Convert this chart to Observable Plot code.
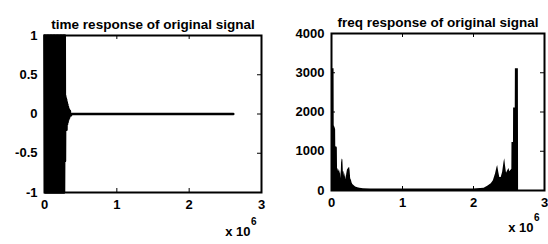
<!DOCTYPE html>
<html><head><meta charset="utf-8">
<script src="https://cdn.jsdelivr.net/npm/d3@7"></script>
<script src="https://cdn.jsdelivr.net/npm/@observablehq/plot@0.6"></script>
<style>
html,body{margin:0;padding:0;background:#fff}
body{width:548px;height:244px;overflow:hidden;position:relative}
#left,#right{position:absolute;top:0}
#left{left:0}
#right{left:274px}
svg{display:block}
</style></head>
<body><div id="left"></div><div id="right"></div>
<script>
// ---- data (x in units of 10^6 samples) ----
const xTicks = [0, 1, 2, 3];
const timeYTicks = [-1, -0.5, 0, 0.5, 1];
const freqYTicks = [0, 1000, 2000, 3000, 4000];

const timeT = [0,0.01,0.02,0.03,0.04,0.05,0.06,0.07,0.08,0.09,0.10,0.11,0.12,0.13,0.14,0.15,0.16,0.17,0.18,0.19,0.20,0.21,0.22,0.23,0.24,0.25,0.26,0.27,0.28,
  0.283,0.287,0.29,0.294,0.297,0.30,0.304,0.308,0.312,0.316,0.32,0.325,0.33,0.335,0.34,0.35,0.36,0.38,2.61];
const timeV = [1,-1,1,-1,1,-1,1,-1,1,-1,1,-1,1,-1,1,-1,1,-1,1,-1,1,-1,1,-1,1,-1,1,-1,1,
  -0.6,0.23,-0.19,0.2,-0.17,0.18,-0.2,0.15,-0.13,0.12,-0.1,0.09,-0.07,0.06,-0.05,0.04,-0.02,0,0];

const freqF = [0,0.036,0.038,0.05,0.058,0.06,0.07,0.082,0.085,0.092,0.1,0.108,0.117,0.126,0.135,0.142,0.15,0.16,0.167,0.175,0.185,0.195,0.205,0.215,0.225,0.24,0.255,0.262,0.27,0.28,0.29,0.30,0.32,0.34,0.37,0.40,0.45,0.55,
  0.8,1.2,1.6,2.0,2.1,2.15,2.2,2.25,2.28,2.31,2.33,2.34,2.355,2.37,2.39,2.41,2.43,2.44,2.45,2.465,2.475,2.49,2.50,2.51,2.525,2.535,2.54,2.542,2.563,2.565,2.588,2.59,2.632,2.635];
const freqM = [3100,3100,1650,1600,1550,1100,1120,1080,560,540,480,540,420,520,300,700,800,780,470,480,340,440,270,420,520,560,590,500,300,260,190,150,120,90,70,55,45,40,
  38,36,38,40,48,60,110,170,250,420,580,640,470,330,330,460,720,810,640,440,480,530,560,480,510,530,540,1220,1220,2100,2100,3100,3100,0];

const timeData = timeT.map((t, i) => ({t, v: timeV[i]}));
const freqData = freqF.map((f, i) => ({f, m: freqM[i]}));

const FONT = "'Liberation Sans', Arial, Helvetica, sans-serif";

function panel({mark, yDomain, yTicks, title, ml, mr, mt, mb}) {
  const W = 274, H = 244;
  const FW = W - ml - mr, FH = H - mt - mb;
  return Plot.plot({
    width: W, height: H,
    marginLeft: ml, marginRight: mr, marginTop: mt, marginBottom: mb,
    x: {domain: [0, 3], label: null},
    y: {domain: yDomain, label: null},
    style: {fontFamily: FONT, fontSize: "13px", fontWeight: "bold", color: "#000", background: "#fff", overflow: "visible"},
    marks: [
      mark,
      Plot.tickX(xTicks, {x: d => d, stroke: "#000", strokeWidth: 1, insetBottom: FH - 4}),
      Plot.tickX(xTicks, {x: d => d, stroke: "#000", strokeWidth: 1, insetTop: FH - 4}),
      Plot.tickY(yTicks, {y: d => d, stroke: "#000", strokeWidth: 1, insetRight: FW - 4}),
      Plot.tickY(yTicks, {y: d => d, stroke: "#000", strokeWidth: 1, insetLeft: FW - 4}),
      Plot.frame({stroke: "#000", strokeWidth: 2}),
      Plot.axisX(xTicks, {tickSize: 0, tickPadding: 7, tickFormat: d => String(d), label: null, fontSize: 13, fontWeight: "bold"}),
      Plot.axisY(yTicks, {tickSize: 0, tickPadding: 7, tickFormat: d => String(d), label: null, fontSize: 13, fontWeight: "bold"}),
      Plot.text([title], {text: d => d, frameAnchor: "top", dy: -16, fontSize: 13.5, fontWeight: "bold", fill: "#000"}),
      Plot.text(["x 10"], {text: d => d, frameAnchor: "bottom-right", textAnchor: "end", dx: -11, dy: 43 - (mb - 52), fontSize: 13, fontWeight: "bold", fill: "#000"}),
      Plot.text(["6"], {text: d => d, frameAnchor: "bottom-right", textAnchor: "start", dx: -10.5, dy: 32 - (mb - 52), fontSize: 10, fontWeight: "bold", fill: "#000"})
    ]
  });
}

document.getElementById("left").append(panel({
  mark: Plot.line(timeData, {x: "t", y: "v", stroke: "#000", strokeWidth: 2.5, strokeLinejoin: "round"}),
  yDomain: [-1, 1], yTicks: timeYTicks,
  title: "time response of original signal",
  ml: 44, mr: 13, mt: 35, mb: 52
}));

document.getElementById("right").append(panel({
  mark: Plot.areaY(freqData, {x: "f", y: "m", fill: "#000"}),
  yDomain: [0, 4000], yTicks: freqYTicks,
  title: "freq response of original signal",
  ml: 57, mr: 4, mt: 33, mb: 54
}));
</script>
</body></html>
